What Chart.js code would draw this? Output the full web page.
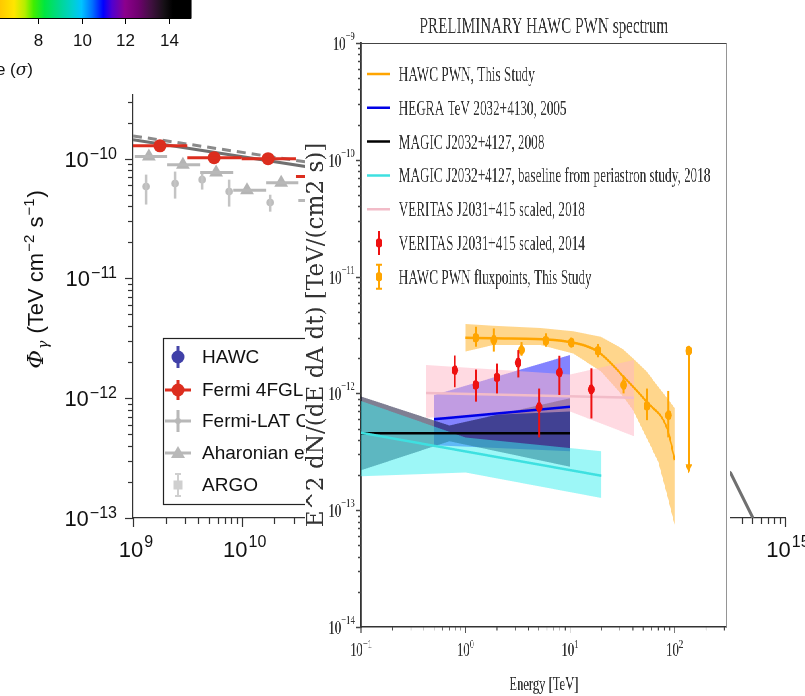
<!DOCTYPE html>
<html><head><meta charset="utf-8">
<script src="https://cdn.jsdelivr.net/npm/chart.js@4/dist/chart.umd.min.js"></script>
<style>
html,body{margin:0;padding:0;background:#fff;width:805px;height:696px;overflow:hidden}
#bg{position:absolute;left:0;top:0}
#ovwrap{position:absolute;left:305px;top:0;width:644px;height:696px;background:#fff;transform:scaleX(0.66);transform-origin:0 0}
</style></head><body>
<canvas id="bg" width="805" height="696"></canvas>
<div id="ovwrap"><canvas id="ov" width="644" height="696"></canvas></div>
<script>
// ================= Background figure (left) data =================
const bgXRange = [1e9, 1e15];
const bgYRange = [1e-13, 3.4e-10];
const bgXTickExps = [9, 10, 11, 12, 13, 14, 15];
const bgYTickExps = [-13, -12, -11, -10];
const cbarTicks = [8, 10, 12, 14];
const cbarLabelParts = ['Significance (', '\u03C3', ')'];
const bgLegendLabels = ['HAWC', 'Fermi 4FGL', 'Fermi-LAT Cocoon', 'Aharonian et al.', 'ARGO'];

const fitSolidE = [1e9, 3.85e10, 3.16e14, 5.07e14];
const fitSolidF = [1.44e-10, 8.6e-11, 2.37e-13, 1.0e-13];
const fitDashedE = [1e9, 3.85e10];
const fitDashedF = [1.55e-10, 9.4e-11];

const fermi4fglE  = [1.77e9, 5.58e9, 1.75e10, 5.6e10];
const fermi4fglF  = [1.28e-10, 1.02e-10, 1.0e-10, 7.1e-11];
const fermi4fglLo = [1e9, 3.16e9, 1e10, 3.16e10];
const fermi4fglHi = [3.16e9, 1e10, 3.16e10, 1e11];

const aharonianE  = [1.40e9, 2.88e9, 5.82e9, 1.12e10, 2.31e10, 4.68e10];
const aharonianF  = [1.04e-10, 8.9e-11, 7.65e-11, 5.46e-11, 6.3e-11, 4.47e-11];
const aharonianLo = [1.04e9, 2.06e9, 4.15e9, 8.36e9, 1.68e10, 3.32e10];
const aharonianHi = [2.06e9, 4.15e9, 8.36e9, 1.68e10, 3.32e10, 6.6e10];

const cocoonE  = [1.32e9, 2.44e9, 4.33e9, 7.67e9, 1.83e10];
const cocoonF  = [5.85e-11, 6.2e-11, 6.68e-11, 5.31e-11, 4.3e-11];
const cocoonHi = [7.36e-11, 7.8e-11, 7.5e-11, 6.68e-11, 5.0e-11];
const cocoonLo = [4.14e-11, 4.64e-11, 5.52e-11, 3.98e-11, 3.61e-11];

// ================= Overlay figure (HAWC PWN spectrum) data =================
const ovTitle = 'PRELIMINARY HAWC PWN spectrum';
const ovXTitle = 'Energy [TeV]';
const ovYTitle = 'E^2 dN/(dE dA dt) [TeV/(cm2 s)]';
const ovXRange = [0.1, 316];
const ovYRange = [1e-14, 1e-9];
const ovXTickExps = [-1, 0, 1, 2];
const ovYTickExps = [-14, -13, -12, -11, -10, -9];
const ovLegendLabels = [
  'HAWC PWN, This Study',
  'HEGRA TeV 2032+4130, 2005',
  'MAGIC J2032+4127, 2008',
  'MAGIC J2032+4127, baseline from periastron study, 2018',
  'VERITAS J2031+415 scaled, 2018',
  'VERITAS J2031+415 scaled, 2014',
  'HAWC PWN fluxpoints, This Study'
];

const hawcCurveE = [1, 1.84, 5.9, 10.7, 18.5, 32, 53.7, 86, 100];
const hawcCurveF = [3.0e-12, 2.96e-12, 2.9e-12, 2.72e-12, 2.28e-12, 1.41e-12, 8.5e-13, 4.86e-13, 2.69e-13];
const hawcBandE  = [1, 1.84, 5.2, 10.7, 19.7, 32, 40, 53.7, 70, 86, 100];
const hawcBandHi = [3.93e-12, 3.8e-12, 3.63e-12, 3.4e-12, 3.06e-12, 2.4e-12, 2.0e-12, 1.55e-12, 1.14e-12, 9.0e-13, 7.5e-13];
const hawcBandLo = [2.28e-12, 2.6e-12, 2.6e-12, 2.2e-12, 1.55e-12, 9.5e-13, 7.2e-13, 4.2e-13, 2.6e-13, 1.3e-13, 7.5e-14];

const hegraE = [0.5, 10];
const hegraF = [6.0e-13, 7.7e-13];
const hegraBandHi = [9.7e-13, 2.13e-12];
const hegraBandLo = [3.6e-13, 3.2e-13];

const magic08E = [0.1, 10];
const magic08F = [4.55e-13, 4.55e-13];
const magic08BandE  = [0.1, 0.7, 10];
const magic08BandHi = [9.4e-13, 5.3e-13, 9.1e-13];
const magic08BandLo = [2.2e-13, 3.9e-13, 2.36e-13];

const magic18E = [0.1, 20];
const magic18F = [4.6e-13, 1.97e-13];
const magic18BandE  = [0.1, 1, 20];
const magic18BandHi = [8.6e-13, 4.2e-13, 3.2e-13];
const magic18BandLo = [1.95e-13, 2.1e-13, 1.27e-13];

const veritas18E = [0.42, 41];
const veritas18F = [1.01e-12, 9.2e-13];
const veritas18BandE  = [0.42, 10, 41];
const veritas18BandHi = [1.75e-12, 1.45e-12, 1.93e-12];
const veritas18BandLo = [6.2e-13, 7.0e-13, 4.3e-13];

const veritas14E  = [0.79, 1.25, 2.0, 3.18, 5.05, 7.95, 16];
const veritas14F  = [1.58e-12, 1.18e-12, 1.37e-12, 1.83e-12, 7.6e-13, 1.51e-12, 1.08e-12];
const veritas14Hi = [2.11e-12, 1.6e-12, 1.8e-12, 2.35e-12, 1.1e-12, 2.1e-12, 1.64e-12];
const veritas14Lo = [1.13e-12, 8.5e-13, 1.0e-12, 1.37e-12, 4.2e-13, 9.7e-13, 6.1e-13];

const hawcPtsE  = [1.25, 1.87, 3.43, 5.85, 10.3, 18.5, 32.7, 54.3, 87.5];
const hawcPtsF  = [3.0e-12, 2.86e-12, 2.35e-12, 2.83e-12, 2.72e-12, 2.32e-12, 1.18e-12, 7.8e-13, 6.5e-13];
const hawcPtsHi = [3.72e-12, 3.6e-12, 2.75e-12, 3.27e-12, 3.0e-12, 2.65e-12, 1.42e-12, 1.1e-12, 1.05e-12];
const hawcPtsLo = [2.51e-12, 2.28e-12, 2.1e-12, 2.51e-12, 2.5e-12, 2.04e-12, 1.0e-12, 5.9e-13, 4.2e-13];
const hawcULE = [137];
const hawcULF = [2.32e-12];
const hawcULTo = [2.07e-13];

// ================= helpers =================
const OV_SX = 0.66;
const pts = (xs, ys) => xs.map((x, i) => ({x: x, y: ys[i]}));
function bandSets(xs, hi, lo, color) {
  return [
    {data: pts(xs, hi), showLine: true, borderWidth: 0, pointRadius: 0, fill: false},
    {data: pts(xs, lo), showLine: true, borderWidth: 0, pointRadius: 0, fill: '-1', backgroundColor: color}
  ];
}
function drawPow(ctx, x, y, exp, o) {
  const e = (exp < 0 ? '\u2212' : '') + Math.abs(exp);
  ctx.font = o.bf; const bw = ctx.measureText('10').width;
  ctx.font = o.ef; const ew = ctx.measureText(e).width;
  const tot = bw + ew + o.gap;
  const x0 = o.align === 'right' ? x - tot : x - tot / 2 + (o.shift || 0);
  ctx.fillStyle = o.color; ctx.textAlign = 'left'; ctx.textBaseline = 'alphabetic';
  ctx.font = o.bf; ctx.fillText('10', x0, y + o.bdy);
  ctx.font = o.ef; ctx.fillText(e, x0 + bw + o.gap, y + o.edy);
}
function drawErrorBars(chart) {
  const ctx = chart.ctx, xs = chart.scales.x, ys = chart.scales.y, ca = chart.chartArea;
  ctx.save();
  ctx.beginPath(); ctx.rect(ca.left, ca.top, ca.right - ca.left, ca.bottom - ca.top); ctx.clip();
  chart.data.datasets.forEach(ds => {
    if (!ds.errInfo) return;
    const e = ds.errInfo;
    ctx.strokeStyle = e.color; ctx.lineWidth = e.width; ctx.lineCap = 'butt';
    ds.data.forEach((p, i) => {
      const px = xs.getPixelForValue(p.x), py = ys.getPixelForValue(p.y);
      if (e.yHi) {
        const a = ys.getPixelForValue(e.yHi[i]), b = ys.getPixelForValue(e.yLo[i]);
        ctx.beginPath(); ctx.moveTo(px, a); ctx.lineTo(px, b); ctx.stroke();
      }
      if (e.xHi) {
        const a = xs.getPixelForValue(e.xLo[i]), b = xs.getPixelForValue(e.xHi[i]);
        ctx.beginPath(); ctx.moveTo(a, py); ctx.lineTo(b, py); ctx.stroke();
      }
      if (e.ulTo) {
        const b = ys.getPixelForValue(e.ulTo[i]);
        ctx.beginPath(); ctx.moveTo(px, py); ctx.lineTo(px, b - 6); ctx.stroke();
        ctx.fillStyle = e.color;
        ctx.beginPath(); ctx.moveTo(px - 5, b - 9); ctx.lineTo(px + 5, b - 9); ctx.lineTo(px, b); ctx.closePath(); ctx.fill();
      }
    });
  });
  ctx.restore();
}

// ================= Background chart =================
const bgDecor = {
  id: 'bgDecor',
  beforeDraw(chart) {
    const c = chart.ctx; c.save(); c.fillStyle = '#fff'; c.fillRect(0, 0, chart.width, chart.height); c.restore();
  },
  afterDatasetsDraw(chart) { drawErrorBars(chart); },
  afterDraw(chart) {
    const c = chart.ctx, xs = chart.scales.x, ys = chart.scales.y, ca = chart.chartArea;
    c.save();
    // ticks
    c.strokeStyle = '#333'; c.lineWidth = 1.2;
    bgYTickExps.forEach(ex => {
      for (let m = 1; m <= 9; m++) {
        const v = m * Math.pow(10, ex);
        if (v < bgYRange[0] * 0.999 || v > bgYRange[1]) continue;
        const y = Math.round(ys.getPixelForValue(v)) + 0.5, L = m === 1 ? 8 : 5;
        c.beginPath(); c.moveTo(ca.left - L, y); c.lineTo(ca.left, y); c.stroke();
      }
      drawPow(c, ca.left - 16, ys.getPixelForValue(Math.pow(10, ex)), ex,
        {bf: '22px "Liberation Sans"', ef: '16px "Liberation Sans"', gap: 1, align: 'right', bdy: 8, edy: 0, color: '#111'});
    });
    bgXTickExps.forEach(ex => {
      for (let m = 1; m <= 9; m++) {
        const v = m * Math.pow(10, ex);
        if (v < bgXRange[0] * 0.999 || v > bgXRange[1] * 1.001) continue;
        const x = Math.round(xs.getPixelForValue(v)) + 0.5, L = m === 1 ? 9 : 6;
        c.beginPath(); c.moveTo(x, ca.bottom); c.lineTo(x, ca.bottom + L); c.stroke();
      }
      drawPow(c, xs.getPixelForValue(Math.pow(10, ex)), ca.bottom + 39, ex,
        {bf: '22px "Liberation Sans"', ef: '16px "Liberation Sans"', gap: 1, align: 'center', shift: 3, bdy: 0, edy: -10, color: '#111'});
    });
    // y axis title  Φγ (TeV cm−2 s−1)
    const segs = [
      {t: '\u03A6', f: 'italic 23px "DejaVu Serif"', dy: 0},
      {t: '\u03B3', f: 'italic 14px "DejaVu Serif"', dy: 5},
      {t: ' (TeV cm', f: '22px "Liberation Sans"', dy: 0},
      {t: '\u22122', f: '15px "Liberation Sans"', dy: -9},
      {t: ' s', f: '22px "Liberation Sans"', dy: 0},
      {t: '\u22121', f: '15px "Liberation Sans"', dy: -9},
      {t: ')', f: '22px "Liberation Sans"', dy: 0}
    ];
    let tot = 0; segs.forEach(s => { c.font = s.f; s.w = c.measureText(s.t).width; tot += s.w + 1; });
    c.translate(35, 279); c.rotate(-Math.PI / 2);
    c.fillStyle = '#111'; c.textBaseline = 'alphabetic'; c.textAlign = 'left';
    let x = -tot / 2;
    segs.forEach(s => { c.font = s.f; c.fillText(s.t, x, 8 + s.dy); x += s.w + 1; });
    c.setTransform(1, 0, 0, 1, 0, 0);
    // colorbar
    const cbX = v => 38 + (v - 8) * 21.75;
    const g = c.createLinearGradient(cbX(6.25), 0, cbX(15.05), 0);
    const stops = [[6.25,'#ffc800'],[6.9,'#ffe600'],[7.4,'#b4ee00'],[7.8,'#40ee00'],[8.3,'#00e640'],[9.0,'#00d890'],[9.6,'#00d0d0'],[10,'#00c4ff'],[10.5,'#0070ff'],[11,'#0000ff'],[11.4,'#5000d0'],[12,'#8c008c'],[12.6,'#700070'],[13.2,'#401040'],[13.8,'#151015'],[14.2,'#000000'],[15.05,'#000000']];
    stops.forEach(s => g.addColorStop((s[0] - 6.25) / (15.05 - 6.25), s[1]));
    c.fillStyle = g; c.fillRect(0, 0, cbX(15.05), 18);
    c.strokeStyle = '#000'; c.lineWidth = 1; c.strokeRect(-1, -1, cbX(15.05) + 0.5, 19.5);
    c.fillStyle = '#111'; c.font = '17px "Liberation Sans"'; c.textAlign = 'center';
    cbarTicks.forEach(v => {
      const px = Math.round(cbX(v)) + 0.5;
      c.beginPath(); c.moveTo(px, 18); c.lineTo(px, 24); c.stroke();
      c.fillText(String(v), px, 46);
    });
    // colorbar label (right-aligned, with italic sigma)
    const fN = '17px "Liberation Sans"', fI = 'italic 17px "DejaVu Serif"';
    c.textAlign = 'left';
    c.font = fN; const w0 = c.measureText(cbarLabelParts[0]).width, w2 = c.measureText(cbarLabelParts[2]).width;
    c.font = fI; const w1 = c.measureText(cbarLabelParts[1]).width;
    let lx = 33 - (w0 + w1 + w2);
    c.font = fN; c.fillText(cbarLabelParts[0], lx, 75); lx += w0;
    c.font = fI; c.fillText(cbarLabelParts[1], lx, 75); lx += w1;
    c.font = fN; c.fillText(cbarLabelParts[2], lx, 75);
    // legend box
    c.fillStyle = '#fff'; c.fillRect(163, 338, 300, 166);
    c.strokeStyle = '#222'; c.lineWidth = 1.2; c.strokeRect(163.5, 338.5, 300, 166);
    const mx = 178, rows = [357, 390, 421, 453, 485];
    c.font = '19px "Liberation Sans"'; c.textAlign = 'left'; c.textBaseline = 'middle';
    rows.forEach((ry, i) => {
      c.lineWidth = 3;
      if (i === 0) {
        c.strokeStyle = '#4646a8'; c.fillStyle = '#4040a8';
        c.beginPath(); c.moveTo(mx, ry - 11); c.lineTo(mx, ry + 11); c.stroke();
        c.beginPath(); c.arc(mx, ry, 6.5, 0, 2 * Math.PI); c.fill();
      } else if (i === 1) {
        c.strokeStyle = '#dc2d1e'; c.fillStyle = '#dc2d1e';
        c.beginPath(); c.moveTo(mx - 13, ry); c.lineTo(mx + 13, ry); c.moveTo(mx, ry - 10); c.lineTo(mx, ry + 10); c.stroke();
        c.beginPath(); c.arc(mx, ry, 6.5, 0, 2 * Math.PI); c.fill();
      } else if (i === 2) {
        c.strokeStyle = '#b8b8b8'; c.fillStyle = '#b8b8b8';
        c.beginPath(); c.moveTo(mx - 13, ry); c.lineTo(mx + 13, ry); c.moveTo(mx, ry - 11); c.lineTo(mx, ry + 11); c.stroke();
        c.beginPath(); c.arc(mx, ry, 3, 0, 2 * Math.PI); c.fill();
      } else if (i === 3) {
        c.strokeStyle = '#b8b8b8'; c.fillStyle = '#b8b8b8';
        c.beginPath(); c.moveTo(mx - 13, ry); c.lineTo(mx + 13, ry); c.stroke();
        c.beginPath(); c.moveTo(mx - 7, ry + 5); c.lineTo(mx + 7, ry + 5); c.lineTo(mx, ry - 7); c.closePath(); c.fill();
      } else {
        c.strokeStyle = '#cfcfcf'; c.fillStyle = '#cfcfcf'; c.lineWidth = 2;
        c.beginPath(); c.moveTo(mx, ry - 11); c.lineTo(mx, ry + 11); c.moveTo(mx - 3, ry - 11); c.lineTo(mx + 3, ry - 11); c.moveTo(mx - 3, ry + 11); c.lineTo(mx + 3, ry + 11); c.stroke();
        c.fillRect(mx - 4.5, ry - 4.5, 9, 9);
      }
      c.fillStyle = '#111';
      c.fillText(bgLegendLabels[i], 202, ry + 1);
    });
    c.restore();
  }
};

new Chart(document.getElementById('bg'), {
  type: 'line',
  data: {
    datasets: [
      {data: pts(fermi4fglE, fermi4fglF), showLine: false, pointRadius: 6.5, pointStyle: 'circle', backgroundColor: '#dc2d1e', borderColor: '#dc2d1e', borderWidth: 0,
       errInfo: {color: '#dc2d1e', width: 3, xLo: fermi4fglLo, xHi: fermi4fglHi}},
      {data: pts(aharonianE, aharonianF), showLine: false, pointRadius: 8, pointStyle: 'triangle', backgroundColor: '#b4b4b4', borderColor: '#b4b4b4', borderWidth: 0,
       errInfo: {color: '#b8b8b8', width: 3, xLo: aharonianLo, xHi: aharonianHi}},
      {data: pts(cocoonE, cocoonF), showLine: false, pointRadius: 3.8, pointStyle: 'circle', backgroundColor: '#bdbdbd', borderColor: '#bdbdbd', borderWidth: 0,
       errInfo: {color: '#c4c4c4', width: 2.5, yLo: cocoonLo, yHi: cocoonHi}},
      {data: pts(fitDashedE, fitDashedF), showLine: true, pointRadius: 0, borderColor: '#8a8a8a', borderWidth: 3, borderDash: [9, 6], fill: false},
      {data: pts(fitSolidE, fitSolidF), showLine: true, pointRadius: 0, borderColor: '#707070', borderWidth: 3, fill: false}
    ]
  },
  options: {
    responsive: false, animation: false, devicePixelRatio: 1,
    layout: {padding: {left: 133, top: 95, right: 20, bottom: 178}},
    plugins: {legend: {display: false}, tooltip: {enabled: false}, title: {display: false}},
    scales: {
      x: {type: 'logarithmic', min: bgXRange[0], max: bgXRange[1], grid: {display: false}, ticks: {display: false},
          border: {display: true, color: '#333', width: 1.2}, afterFit: s => { s.height = 0; }},
      y: {type: 'logarithmic', min: bgYRange[0], max: bgYRange[1], grid: {display: false}, ticks: {display: false},
          border: {display: true, color: '#333', width: 1.2}, afterFit: s => { s.width = 0; }}
    }
  },
  plugins: [bgDecor]
});

// ================= Overlay chart =================
const ovStyles = [
  {line: '#ffa500'}, {line: '#0000e6'}, {line: '#000000'}, {line: '#3ee0e0'}, {line: '#f2bcc8'},
  {pt: '#ee1111'}, {pt: '#ffa500'}
];
const ovDecor = {
  id: 'ovDecor',
  beforeDraw(chart) {
    const c = chart.ctx; c.save(); c.fillStyle = '#fff'; c.fillRect(0, 0, chart.width, chart.height); c.restore();
  },
  afterDatasetsDraw(chart) { drawErrorBars(chart); },
  afterDraw(chart) {
    const c = chart.ctx, xs = chart.scales.x, ys = chart.scales.y, ca = chart.chartArea;
    c.save();
    // frame
    c.strokeStyle = '#444'; c.lineWidth = 1.2;
    c.beginPath(); c.moveTo(ca.left, ca.top + 0.5); c.lineTo(ca.right, ca.top + 0.5); c.stroke();
    c.strokeStyle = '#8a8a8a'; c.lineWidth = 1.8;
    c.beginPath(); c.moveTo(ca.right, ca.top); c.lineTo(ca.right, ca.bottom); c.stroke();
    // ticks
    c.strokeStyle = '#444'; c.lineWidth = 1.5;
    ovYTickExps.forEach(ex => {
      for (let m = 1; m <= 9; m++) {
        const v = m * Math.pow(10, ex);
        if (v < ovYRange[0] * 0.999 || v > ovYRange[1] * 1.001) continue;
        const y = Math.round(ys.getPixelForValue(v)) + 0.5, L = m === 1 ? 7 : 4;
        c.beginPath(); c.moveTo(ca.left - L, y); c.lineTo(ca.left, y); c.stroke();
      }
      drawPow(c, ca.left - 10, ys.getPixelForValue(Math.pow(10, ex)), ex,
        {bf: '19px "Liberation Serif"', ef: '13px "Liberation Serif"', gap: 0, align: 'right', bdy: 7, edy: -3, color: '#333'});
    });
    c.lineWidth = 1.2;
    ovXTickExps.forEach(ex => {
      for (let m = 1; m <= 9; m++) {
        const v = m * Math.pow(10, ex);
        if (v < ovXRange[0] * 0.999 || v > ovXRange[1]) continue;
        const x = xs.getPixelForValue(v), L = m === 1 ? 6 : 3.5;
        c.beginPath(); c.moveTo(x, ca.bottom); c.lineTo(x, ca.bottom + L); c.stroke();
      }
      drawPow(c, xs.getPixelForValue(Math.pow(10, ex)), ca.bottom + 29, ex,
        {bf: '19px "Liberation Serif"', ef: '13px "Liberation Serif"', gap: 0, align: 'center', bdy: 0, edy: -8, color: '#333'});
    });
    // titles
    c.fillStyle = '#333'; c.textAlign = 'center'; c.textBaseline = 'alphabetic';
    c.font = '23px "Liberation Serif"';
    c.fillText(ovTitle, (ca.left + ca.right) / 2, 33);
    c.font = '19px "Liberation Serif"';
    c.fillText(ovXTitle, (ca.left + ca.right) / 2, 690);
    // y title: undo the horizontal squeeze so glyphs keep their height
    c.font = '20px "DejaVu Serif"';
    const w20 = c.measureText(ovYTitle).width;
    const fs = 20 * 384 / w20;
    c.font = fs.toFixed(1) + 'px "DejaVu Serif"';
    c.translate(27, (ca.top + ca.bottom) / 2); c.scale(1 / OV_SX, 1); c.rotate(-Math.PI / 2);
    c.fillText(ovYTitle, 0, 0);
    c.setTransform(1, 0, 0, 1, 0, 0);
    // legend
    c.font = '20px "Liberation Serif"'; c.textAlign = 'left'; c.textBaseline = 'alphabetic';
    ovLegendLabels.forEach((lab, i) => {
      const ry = 74 + i * 33.8, st = ovStyles[i];
      if (st.line) {
        c.strokeStyle = st.line; c.lineWidth = 2.5;
        c.beginPath(); c.moveTo(94, ry); c.lineTo(129, ry); c.stroke();
      } else {
        c.strokeStyle = st.pt; c.fillStyle = st.pt; c.lineWidth = 3;
        c.beginPath(); c.moveTo(112, ry - 12); c.lineTo(112, ry + 12); c.stroke();
        if (i === 6) { c.lineWidth = 2; c.beginPath(); c.moveTo(107, ry - 12); c.lineTo(117, ry - 12); c.moveTo(107, ry + 12); c.lineTo(117, ry + 12); c.stroke(); }
        c.beginPath(); c.arc(112, ry, 5, 0, 2 * Math.PI); c.fill();
      }
      c.fillStyle = '#333';
      c.fillText(lab, 142, ry + 7);
    });
    c.restore();
  }
};

const ovDatasets = [
  // markers (drawn last = on top)
  {data: pts(hawcPtsE, hawcPtsF), showLine: false, pointRadius: 5, pointStyle: 'circle', backgroundColor: '#ffa500', borderWidth: 0,
   errInfo: {color: '#ffa500', width: 3, yLo: hawcPtsLo, yHi: hawcPtsHi}},
  {data: pts(hawcULE, hawcULF), showLine: false, pointRadius: 5, pointStyle: 'circle', backgroundColor: '#ffa500', borderWidth: 0,
   errInfo: {color: '#ffa500', width: 3, ulTo: hawcULTo}},
  {data: pts(veritas14E, veritas14F), showLine: false, pointRadius: 5, pointStyle: 'circle', backgroundColor: '#ee1111', borderWidth: 0,
   errInfo: {color: '#ee1111', width: 3, yLo: veritas14Lo, yHi: veritas14Hi}},
  // lines
  {data: pts(hawcCurveE, hawcCurveF), showLine: true, pointRadius: 0, borderColor: '#ffa500', borderWidth: 2.5, tension: 0.4, cubicInterpolationMode: 'monotone', fill: false},
  {data: pts(veritas18E, veritas18F), showLine: true, pointRadius: 0, borderColor: '#f2bcc8', borderWidth: 2.5, fill: false},
  {data: pts(magic18E, magic18F), showLine: true, pointRadius: 0, borderColor: '#3ee0e0', borderWidth: 2.5, fill: false},
  {data: pts(magic08E, magic08F), showLine: true, pointRadius: 0, borderColor: '#000000', borderWidth: 2.5, fill: false},
  {data: pts(hegraE, hegraF), showLine: true, pointRadius: 0, borderColor: '#0000e6', borderWidth: 2.5, fill: false},
  // bands
  ...bandSets(veritas18BandE, veritas18BandHi, veritas18BandLo, 'rgba(255,182,198,0.5)'),
  ...bandSets(magic18BandE, magic18BandHi, magic18BandLo, 'rgba(60,240,240,0.5)'),
  ...bandSets(magic08BandE, magic08BandHi, magic08BandLo, 'rgba(0,0,40,0.5)'),
  ...bandSets(hegraE, hegraBandHi, hegraBandLo, 'rgba(30,30,255,0.55)'),
  ...bandSets(hawcBandE, hawcBandHi, hawcBandLo, 'rgba(255,165,0,0.45)')
];

new Chart(document.getElementById('ov'), {
  type: 'line',
  data: {datasets: ovDatasets},
  options: {
    responsive: false, animation: false, devicePixelRatio: 1,
    layout: {padding: {left: 85, top: 43, right: 3, bottom: 69}},
    plugins: {legend: {display: false}, tooltip: {enabled: false}, title: {display: false}, filler: {drawTime: 'beforeDatasetsDraw'}},
    scales: {
      x: {type: 'logarithmic', min: ovXRange[0], max: ovXRange[1], grid: {display: false}, ticks: {display: false},
          border: {display: true, color: '#333', width: 1.5}, afterFit: s => { s.height = 0; }},
      y: {type: 'logarithmic', min: ovYRange[0], max: ovYRange[1], grid: {display: false}, ticks: {display: false},
          border: {display: true, color: '#333', width: 1.8}, afterFit: s => { s.width = 0; }}
    }
  },
  plugins: [ovDecor]
});
</script>
</body></html>
